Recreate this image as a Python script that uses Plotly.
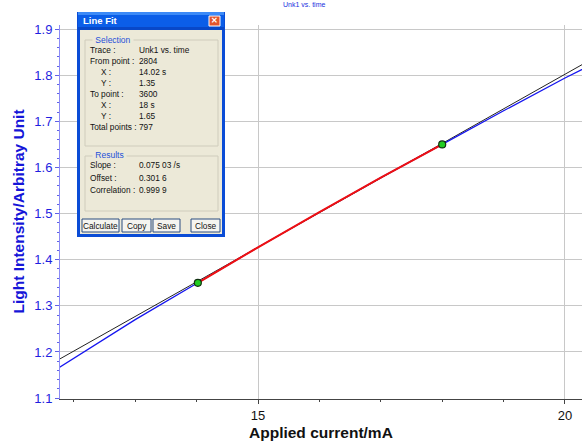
import plotly.graph_objects as go

# ---- measured trace (blue) ----
current_mA = [11.7, 12.5, 13.0, 14.02, 15.0, 16.0, 17.0, 18.0, 19.0, 20.0, 20.4]
intensity = [1.161, 1.228, 1.270, 1.350, 1.427, 1.503, 1.578, 1.650, 1.723, 1.794, 1.821]

# ---- line-fit selection and results ----
sel_x = [14.02, 18.0]
sel_y = [1.35, 1.65]
slope = 0.07503
offset = 0.3016
fit_x = [11.7, 20.4]
fit_y = [slope * v + offset for v in fit_x]

# selected part of the trace, drawn in red
seg_x = [sel_x[0]] + [v for v in current_mA if sel_x[0] < v < sel_x[1]] + [sel_x[1]]
seg_y = [sel_y[0]] + [y for v, y in zip(current_mA, intensity) if sel_x[0] < v < sel_x[1]] + [sel_y[1]]

dialog_labels = ["Trace :", "From point :", "X :", "Y :", "To point :", "X :", "Y :", "Total points :"]
dialog_values = ["Unk1 vs. time", "2804", "14.02 s", "1.35", "3600", "18 s", "1.65", "797"]
result_labels = ["Slope :", "Offset :", "Correlation :"]
result_values = ["0.075 03 /s", "0.301 6", "0.999 9"]
button_labels = ["Calculate", "Copy", "Save", "Close"]

W, H = 582, 444
ML, MR, MT, MB = 60, 0, 25, 45
PW, PH = W - ML - MR, H - MT - MB


def px(x):
    return (x - ML) / PW


def py(y):
    return (H - MB - y) / PH


fig = go.Figure()
fig.add_trace(go.Scatter(x=fit_x, y=fit_y, mode="lines",
                         line=dict(color="#222222", width=1), hoverinfo="skip"))
fig.add_trace(go.Scatter(x=current_mA, y=intensity, mode="lines",
                         line=dict(color="#1515F0", width=1.3)))
fig.add_trace(go.Scatter(x=seg_x, y=seg_y, mode="lines",
                         line=dict(color="#F01010", width=2)))
fig.add_trace(go.Scatter(x=sel_x, y=sel_y, mode="markers",
                         marker=dict(color="#22CC22", size=7, line=dict(color="#103010", width=1.2))))

shapes = []
annotations = []


def rect(x0, y0, x1, y1, fill=None, line=None, lw=0):
    shapes.append(dict(type="rect", xref="paper", yref="paper",
                       x0=px(x0), x1=px(x1), y0=py(y1), y1=py(y0),
                       fillcolor=fill if fill else "rgba(0,0,0,0)",
                       line=dict(color=line if line else "rgba(0,0,0,0)", width=lw),
                       layer="above"))


def text(x, y, s, size=8, color="#111111", anchor="left", bold=False, bg=None):
    annotations.append(dict(xref="paper", yref="paper", x=px(x), y=py(y),
                            text=f"<b>{s}</b>" if bold else s, showarrow=False,
                            xanchor=anchor, yanchor="middle",
                            font=dict(family="Liberation Sans, Arial", size=size, color=color),
                            bgcolor=bg, borderpad=0))


# dialog frame and title bar
rect(77, 12, 225, 237, fill="#0A4CD6")
rect(78, 12, 224, 15, fill="#3C8AF7")
rect(78, 15, 224, 27, fill="#0B5EE8")
rect(78, 27, 224, 30, fill="#0848C8")
rect(80, 30, 222, 234, fill="#ECE9D8")
text(82, 21, "Line Fit", size=9.5, color="#FFFFFF", bold=True)
rect(209, 16, 220, 26, fill="#E2552E", line="#FFFFFF", lw=1)
text(214.5, 21, "✕", size=8, color="#FFFFFF", anchor="center", bold=True)

# group boxes
rect(85, 40, 218, 146, line="#CFCCBC", lw=1)
text(92, 40, " Selection ", size=8.5, color="#1E50D8", bg="#ECE9D8")
rows_y = [50, 61, 72, 83, 94.5, 105.5, 116, 127]
for lab, val, yy in zip(dialog_labels, dialog_values, rows_y):
    indent = 100 if lab in ("X :", "Y :") else 89
    text(indent, yy, lab, size=8.3)
    text(138, yy, val, size=8.3)

rect(85, 156, 218, 211, line="#CFCCBC", lw=1)
text(92, 155, " Results ", size=8.5, color="#1E50D8", bg="#ECE9D8")
for lab, val, yy in zip(result_labels, result_values, [165, 177.5, 190]):
    text(89, yy, lab, size=8.3)
    text(138, yy, val, size=8.3)

# buttons
for lab, (bx0, bx1) in zip(button_labels, [(82, 119), (122, 151), (153, 180), (191, 220)]):
    rect(bx0, 219, bx1, 232, fill="#F5F4EF", line="#2A4C80", lw=1)
    text((bx0 + bx1) / 2, 225.5, lab, size=8.3, anchor="center")

# trace title along the top edge
text(304, 4, "Unk1 vs. time", size=7, color="#2030E0", anchor="center")

# axis titles
annotations.append(dict(xref="paper", yref="paper", x=px(17.5), y=0.5, textangle=-90,
                        text="<b>Light Intensity/Arbitray Unit</b>", showarrow=False,
                        xanchor="center", yanchor="middle",
                        font=dict(family="Liberation Sans, Arial", size=15.5, color="#1515D8")))
annotations.append(dict(xref="paper", yref="paper", x=0.5, y=py(433),
                        text="<b>Applied current/mA</b>", showarrow=False,
                        xanchor="center", yanchor="middle",
                        font=dict(family="Liberation Sans, Arial", size=15.5, color="#111111")))

fig.update_layout(
    width=W, height=H,
    margin=dict(l=ML, r=MR, t=MT, b=MB, pad=0),
    paper_bgcolor="white", plot_bgcolor="white",
    showlegend=False,
    shapes=shapes, annotations=annotations,
    xaxis=dict(range=[11.775, 20.277], tickvals=[15, 20], showgrid=True,
               gridcolor="#C8C8C8", gridwidth=1, zeroline=False,
               showline=True, linecolor="#444444", linewidth=1,
               ticks="outside", ticklen=4, tickcolor="#444444",
               minor=dict(dtick=1, tick0=0, ticks="outside", ticklen=2,
                          tickcolor="#444444", showgrid=False),
               tickfont=dict(family="Liberation Sans, Arial", size=13, color="#111111")),
    yaxis=dict(range=[1.098, 1.909], tick0=1.1, dtick=0.1, tickformat=".1f",
               showgrid=True, gridcolor="#C8C8C8", gridwidth=1, zeroline=False,
               showline=True, linecolor="#8C8CF5", linewidth=1,
               ticks="outside", ticklen=4, tickcolor="#6060E8",
               minor=dict(dtick=0.02, tick0=1.1, ticks="outside", ticklen=2,
                          tickcolor="#6060E8", showgrid=False),
               tickfont=dict(family="Liberation Sans, Arial", size=13, color="#1F1FE0")),
)

fig.write_html("out.html")
